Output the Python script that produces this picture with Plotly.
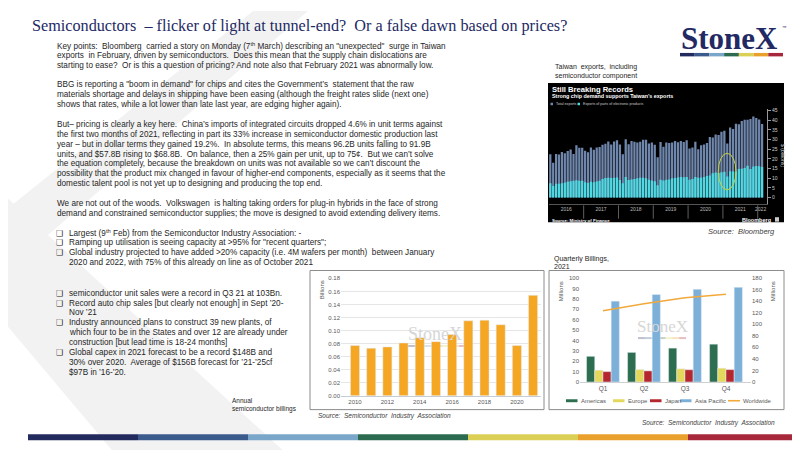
import plotly.graph_objects as go

W, H = 800, 450

# Annual semiconductor billings (Semiconductor Industry Association)
years = [2010, 2011, 2012, 2013, 2014, 2015, 2016, 2017, 2018, 2019, 2020, 2021]
annual_billings = [0.077, 0.073, 0.075, 0.081, 0.089, 0.083, 0.094, 0.115, 0.116, 0.109, 0.077, 0.154]

# Quarterly billings 2021 (millions)
quarters = ["Q1", "Q2", "Q3", "Q4"]
americas = [24.7, 28.5, 32.6, 36.4]
europe = [11.4, 12.0, 12.7, 13.3]
japan = [10.0, 10.7, 11.8, 11.9]
asia_pacific = [77.8, 84.2, 89.2, 91.1]
worldwide = [123.5, 135.5, 146.0, 152.0]

# Taiwan monthly exports, Jan 2016 - Feb 2022 ($ billions)
export_years = [2016, 2017, 2018, 2019, 2020, 2021, 2022]
total_exports = [
    22.4, 18.0, 22.5, 22.3, 23.6, 22.9, 24.1, 24.8, 22.5, 27.0, 25.7, 25.7,
    24.2, 23.4, 25.9, 24.7, 25.9, 26.1, 27.3, 27.8, 29.0, 27.5, 29.0, 29.7,
    27.4, 22.4, 30.2, 27.6, 29.2, 28.8, 28.5, 28.9, 29.9, 29.9, 28.0, 28.5,
    27.3, 20.8, 28.7, 26.3, 28.5, 28.2, 28.5, 29.2, 28.6, 29.3, 28.7, 29.6,
    25.4, 25.9, 28.9, 25.0, 27.0, 27.4, 28.2, 31.3, 31.1, 32.6, 32.3, 34.1,
    34.6, 28.0, 36.3, 35.5, 38.2, 37.9, 39.6, 40.2, 40.2, 40.6, 41.9, 41.2,
    40.4, 38.0,
]
electronic_parts = [
    7.3, 5.9, 7.1, 7.1, 7.3, 7.6, 8.1, 8.4, 8.7, 8.9, 8.6, 8.6,
    7.9, 7.5, 8.1, 7.9, 8.3, 8.6, 9.5, 10.1, 10.2, 10.1, 10.2, 10.3,
    9.0, 7.4, 10.6, 9.0, 9.3, 9.6, 10.0, 10.2, 10.2, 9.9, 9.2, 8.8,
    8.4, 6.3, 9.2, 8.8, 9.2, 9.3, 9.9, 10.1, 10.3, 10.6, 10.5, 10.6,
    9.2, 9.6, 10.6, 10.2, 10.3, 10.6, 11.1, 11.4, 12.6, 12.9, 12.7, 13.1,
    13.3, 10.9, 13.6, 13.4, 13.4, 14.7, 14.9, 15.3, 16.4, 14.8, 16.0, 16.3,
    16.2, 15.8,
]

NAVY = "#232a63"
BAND = ["#232b5e", "#3b5b8c", "#7aa7c9", "#2c6b4f", "#dccf55", "#eaa02d", "#a6283a"]
TXT = "#262626"
AX = "#595959"
BODY = 8.2


def px(x):
    return x / W


def py(y):
    return 1 - y / H


annotations = []
shapes = []


def label(x, y, text, size=BODY, color=TXT, family="Liberation Sans", anchor="left", **kw):
    annotations.append(dict(
        x=px(x), y=py(y), xref="paper", yref="paper", text=text, showarrow=False,
        xanchor=anchor, yanchor="middle", font=dict(size=size, color=color, family=family), **kw
    ))


def rect(x0, y0, x1, y1, fill, line=None, layer="below", opacity=1):
    shapes.append(dict(
        type="rect", xref="paper", yref="paper", x0=px(x0), x1=px(x1), y0=py(y0), y1=py(y1),
        fillcolor=fill, line=dict(width=1 if line else 0, color=line or fill), layer=layer, opacity=opacity
    ))


def color_band(x0, x1, y0, y1, opacity=1, layer="below"):
    step = (x1 - x0) / len(BAND)
    for i, c in enumerate(BAND):
        rect(x0 + i * step, y0, x0 + (i + 1) * step, y1, c, layer=layer, opacity=opacity)


# faint "X" watermark in the background
for pts in ([(245, 0), (300, 0), (0, 262), (0, 200)], [(0, 190), (280, 450), (108, 450), (0, 320)]):
    path = "M " + " L ".join(f"{px(a):.4f},{py(b):.4f}" for a, b in pts) + " Z"
    shapes.append(dict(type="path", xref="paper", yref="paper", path=path,
                       fillcolor="#f2f2f2", line=dict(width=0), layer="below"))

# chart frames
rect(302, 263, 536, 404, "white", line="#8c8c8c")
rect(541, 263, 776, 404, "white", line="#8c8c8c")
rect(540, 73, 776, 214, "black")

# header
label(22, 15, "Semiconductors  \u2013 flicker of light at tunnel-end?  Or a false dawn based on prices?",
      size=16.2, color=NAVY, family="Liberation Serif")
label(721, 28, "<b>StoneX</b>", size=31, color=NAVY, family="Liberation Serif", anchor="center")
label(772, 17, "\u2122", size=4.5, color=NAVY)
color_band(672, 775, 42.5, 46)

# body text
p1 = [
    "Key points:  Bloomberg  carried a story on Monday (7<sup>th</sup> March) describing an \"unexpected\"  surge in Taiwan",
    "exports  in February, driven by semiconductors.  Does this mean that the supply chain dislocations are",
    "starting to ease?  Or is this a question of pricing? And note also that February 2021 was abnormally low.",
]
p2 = [
    "BBG is reporting a \"boom in demand\" for chips and cites the Government\u2019s  statement that the raw",
    "materials shortage and delays in shipping have been easing (although the freight rates slide (next one)",
    "shows that rates, while a lot lower than late last year, are edging higher again).",
]
p3 = [
    "But\u2013 pricing is clearly a key here.  China\u2019s imports of integrated circuits dropped 4.6% in unit terms against",
    "the first two months of 2021, reflecting in part its 33% increase in semiconductor domestic production last",
    "year \u2013 but in dollar terms they gained 19.2%.  In absolute terms, this means 96.2B units falling to 91.9B",
    "units, and $57.8B rising to $68.8B.  On balance, then a 25% gain per unit, up to 75\u00a2.  But we can\u2019t solve",
    "the equation completely, because the breakdown on units was not available so we can\u2019t discount the",
    "possibility that the product mix changed in favour of higher-end components, especially as it seems that the",
    "domestic talent pool is not yet up to designing and producing the top end.",
]
p4 = [
    "We are not out of the woods.  Volkswagen  is halting taking orders for plug-in hybrids in the face of strong",
    "demand and constrained semiconductor supplies; the move is designed to avoid extending delivery items.",
]
bullets1 = [
    (True, "Largest (9<sup>th</sup> Feb) from the Semiconductor Industry Association: -"),
    (True, "Ramping up utilisation is seeing capacity at >95% for \"recent quarters\";"),
    (True, "Global industry projected to have added >20% capacity (i.e. 4M wafers per month)  between January"),
    (False, "2020 and 2022, with 75% of this already on line as of October 2021"),
]
bullets2 = [
    (True, "semiconductor unit sales were a record in Q3 21 at 103Bn."),
    (True, "Record auto chip sales [but clearly not enough] in Sept \u201920-"),
    (False, "Nov \u201921"),
    (True, "Industry announced plans to construct 39 new plants, of"),
    (False, "which four to be in the States and over 12 are already under"),
    (False, "construction [but lead time is 18-24 months]"),
    (True, "Global capex in 2021 forecast to be a record $148B and"),
    (False, "30% over 2020.  Average of $156B forecast for \u201921-\u201925cf"),
    (False, "$97B in \u201916-\u201920."),
]

for y0, par in ((35, p1), (75, p2), (115, p3), (195, p4)):
    for i, t in enumerate(par):
        label(47, y0 + 10 * i, t)
for y0, blist in ((225, bullets1), (286, bullets2)):
    for i, (is_bullet, t) in enumerate(blist):
        if is_bullet:
            label(46, y0 + 10 * i, "\u2751", size=8, family="DejaVu Sans")
        label(58.5, y0 + 10 * i, t)

# captions and sources
label(545, 57, "Taiwan  exports,  including", size=7)
label(545, 66, "semiconductor component", size=7)
label(769, 223, "<i>Source:  Bloomberg</i>", size=7.5, color="#404040", anchor="right")
label(544, 251, "Quarterly Billings,", size=7)
label(544, 259, "2021", size=7)
label(222, 395, "Annual", size=6.5)
label(222, 403, "semiconductor billings", size=6.5)
label(308, 410, "<i>Source:  Semiconductor  Industry  Association</i>", size=6.5, color="#404040")
label(769, 418, "<i>Source:  Semiconductor  Industry  Association</i>", size=6.5, color="#404040", anchor="right")

# axis titles
label(314, 283, "Billions", size=6, color=AX, textangle=-90, anchor="center")
label(553, 284, "Millions", size=6, color=AX, textangle=-90, anchor="center")
label(765, 284, "Millions", size=6, color=AX, textangle=-90, anchor="center")

# StoneX watermarks inside the SIA charts
label(427, 327, "StoneX", size=18, color="#d6d6d6", family="Liberation Serif", anchor="center")
color_band(398, 460, 338.5, 340.5, opacity=0.3)
label(654, 320, "StoneX", size=17, color="#d6d6d6", family="Liberation Serif", anchor="center")
color_band(630, 678, 330.5, 332.5, opacity=0.3)

# manual legend for the quarterly chart
region_names = ["Americas", "Europe", "Japan", "Asia Pacific"]
region_colors = ["#2d6e50", "#e4d85c", "#b5272f", "#7cb0d8"]
world_color = "#f2a93b"
legend_x = [558, 605, 642, 672]
for x0, name, c in zip(legend_x, region_names, region_colors):
    rect(x0, 393.5, x0 + 11.5, 396.5, c, layer="above")
    label(x0 + 12.5, 395, name, size=6, color=AX)
shapes.append(dict(type="line", xref="paper", yref="paper", x0=px(720), x1=px(732), y0=py(395), y1=py(395),
                   line=dict(color=world_color, width=1.6)))
label(733, 395, "Worldwide", size=6, color=AX)

# Bloomberg panel texts
label(542, 79.5, "<b>Still Breaking Records</b>", size=7.6, color="white")
label(542, 86.5, "<b>Strong chip demand supports Taiwan\u2019s exports</b>", size=5.4, color="white")
total_color = "#6f87ad"
parts_color = "#4fd9e2"
rect(542.5, 93, 545, 95.5, total_color, layer="above")
label(545.5, 94.3, "Total exports", size=3.6, color="#cccccc")
rect(569.5, 93, 572, 95.5, parts_color, layer="above")
label(572.5, 94.3, "Exports of parts of electronic products", size=3.6, color="#cccccc")
label(542, 212, "<b>Source: Ministry of Finance</b>", size=4.4, color="white")
label(765, 211.5, "<b>Bloomberg</b>", size=5.5, color="white", anchor="right")
rect(767, 209, 771, 213.5, "#cccccc", layer="above")
label(775, 146, "$ (billions)", size=5, color="#cccccc", textangle=90, anchor="center")

# Bloomberg year separators and ellipse
months_idx = list(range(len(total_exports)))
year_ticks, year_text = [], []
for i, yr in enumerate(export_years):
    start = 12 * i
    n = min(12, len(total_exports) - start)
    year_ticks.append(start + (n - 1) / 2)
    year_text.append(str(yr))
    if i > 0:
        shapes.append(dict(type="line", xref="x3", yref="paper", x0=start - 0.5, x1=start - 0.5,
                           y0=py(197), y1=py(210.5), line=dict(color="#777777", width=0.8)))
shapes.append(dict(type="circle", xref="x3", yref="y4", x0=57.9, x1=64.0, y0=3.9, y1=22.9,
                   line=dict(color="#c9d13a", width=1)))

fig = go.Figure()

fig.add_trace(go.Bar(x=years, y=annual_billings, marker_color="#f5a623", width=0.56,
                     xaxis="x", yaxis="y", showlegend=False))

for name, vals, c in zip(region_names, [americas, europe, japan, asia_pacific], region_colors):
    fig.add_trace(go.Bar(x=quarters, y=vals, name=name, marker_color=c, xaxis="x2", yaxis="y2"))
fig.add_trace(go.Scatter(x=quarters, y=worldwide, name="Worldwide", mode="lines",
                         line=dict(color=world_color, width=1.6), xaxis="x2", yaxis="y3"))

fig.add_trace(go.Bar(x=months_idx, y=total_exports, marker=dict(color=total_color, line_width=0),
                     width=0.78, offset=-0.39, xaxis="x3", yaxis="y4"))
fig.add_trace(go.Bar(x=months_idx, y=electronic_parts, marker=dict(color=parts_color, line_width=0),
                     width=0.78, offset=-0.39, xaxis="x3", yaxis="y4"))

tick_font = dict(size=6, color=AX, family="Liberation Sans")
fig.update_layout(
    width=W, height=H, margin=dict(l=0, r=0, t=0, b=0),
    paper_bgcolor="white", plot_bgcolor="rgba(0,0,0,0)",
    showlegend=False, barmode="group", bargap=0.2, bargroupgap=0,
    font=dict(family="Liberation Sans", color=TXT),
    xaxis=dict(domain=[px(333), px(533)], range=[2009.135, 2021.49], anchor="y",
               tickvals=[y for y in years[:-1] if y % 2 == 0], tickfont=tick_font,
               showgrid=False, showline=True, linecolor="#c5ccd3", ticks="", zeroline=False),
    yaxis=dict(domain=[py(390), py(271)], range=[0, 0.18], dtick=0.02, tickformat=".2f", anchor="x",
               tickfont=tick_font, gridcolor="#e6e6e6", zeroline=False, ticks=""),
    xaxis2=dict(domain=[px(572), px(743)], range=[-0.56, 3.61], anchor="y2", tickfont=dict(size=6.5, color=AX),
                showgrid=False, showline=True, linecolor="#d0d0d0", ticks=""),
    yaxis2=dict(domain=[py(376), py(270.7)], range=[0, 100], dtick=10, anchor="x2", tickfont=tick_font,
                showgrid=False, zeroline=False, ticks=""),
    yaxis3=dict(overlaying="y2", side="right", anchor="x2", range=[0, 180], dtick=20, tickfont=tick_font,
                showgrid=False, zeroline=False, ticks=""),
    xaxis3=dict(domain=[px(540.85), px(759)], range=[-0.5, 74.7], anchor="y4",
                tickvals=year_ticks, ticktext=year_text, tickfont=dict(size=5, color="#bbbbbb"),
                showgrid=False, zeroline=False, showline=True, linecolor="#555555", ticks=""),
    yaxis4=dict(domain=[py(196), py(99)], range=[-3.6, 46], tickvals=[0, 5, 10, 15, 20, 25, 30, 35, 40, 45],
                side="right", anchor="x3", ticks="outside", ticklen=3, tickcolor="#999999",
                showline=True, linecolor="#999999", tickfont=dict(size=5, color="#cccccc"),
                showgrid=False, zeroline=False),
    annotations=annotations,
    shapes=shapes,
)

# bottom colour band
for i, c in enumerate(BAND):
    step = (790 - 20) / len(BAND)
    fig.add_shape(type="rect", xref="paper", yref="paper", x0=px(20 + i * step), x1=px(20 + (i + 1) * step),
                  y0=py(435), y1=py(429), fillcolor=c, line_width=0)

fig.write_html("out.html")
